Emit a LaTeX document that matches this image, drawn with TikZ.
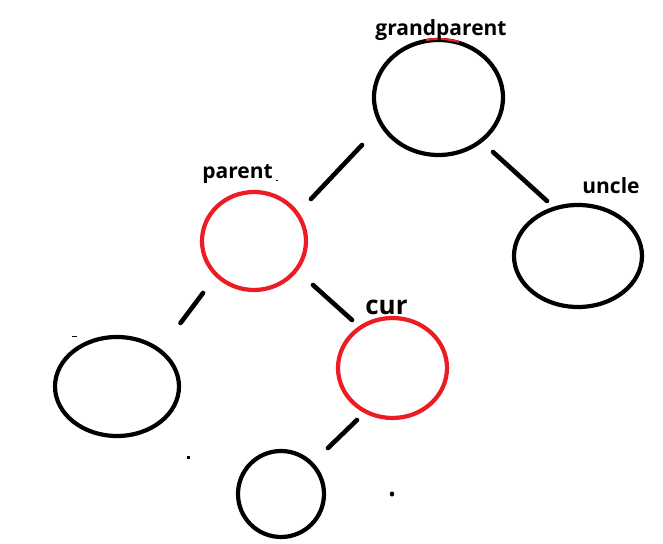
\documentclass[tikz,border=0pt]{standalone}
\usepackage{fontspec}
\setmainfont{Open Sans}
\usetikzlibrary{shapes.geometric,calc}
\definecolor{pred}{RGB}{237,28,36}
\begin{document}
\begin{tikzpicture}[x=1pt,y=1pt,
  bnode/.style={ellipse,draw=black,line width=4.2pt,inner sep=0pt},
  rnode/.style={ellipse,draw=pred,line width=4.2pt,inner sep=0pt},
  conn/.style={draw=black,line width=4.6pt,line cap=round},
  lbl/.style={font=\bfseries\fontsize{21}{21}\selectfont,anchor=base,inner sep=0pt}]
\useasboundingbox[fill=white] (0,0) rectangle (663,543);
% nodes
\node[bnode,minimum width=129pt,minimum height=115pt] (gp) at (438.5,445.5) {};
\node[rnode,minimum width=104pt,minimum height=98pt] (p) at (254,302) {};
\node[bnode,minimum width=128pt,minimum height=102pt] (u) at (578,287) {};
\node[bnode,minimum width=124pt,minimum height=99pt] (l) at (117,156.5) {};
\node[rnode,minimum width=109pt,minimum height=100pt] (c) at (392.5,175) {};
\node[bnode,minimum width=86pt,minimum height=86pt] (b) at (281,49) {};
% red mark on top of grandparent
\draw[pred,line width=2pt] ($(gp.center)+(72:65.5 and 58.5)$) arc[start angle=72,end angle=101,x radius=65.5,y radius=58.5];
% labels
\node[lbl] (tgp) at (441,507) {grandparent};
\node[lbl] (tp) at (237.5,364) {parent};
\node[lbl] (tu) at (611,349) {uncle};
\node[lbl,font=\bfseries\fontsize{26}{26}\selectfont] (tc) at (386.5,228) {cur};
% connectors
\draw[conn] ($(gp.center)+(-76.5,-47.5)$) -- ($(p.center)+(57,42)$);
\draw[conn] ($(gp.center)+(54.5,-54.5)$) -- ($(u.center)+(-31,55)$);
\draw[conn] ($(p.center)+(-51,-52)$) -- ($(l.center)+(63.5,63.5)$);
\draw[conn] ($(p.center)+(59,-44)$) -- ($(c.center)+(-40.5,48)$);
\draw[conn] ($(c.center)+(-35.5,-52)$) -- ($(b.center)+(47,46)$);
% stray marks
\fill[black] (392,49) ellipse[x radius=2.2,y radius=2.6];
\fill[black] (186.5,83.5) rectangle (189.5,86.5);
\fill[black] (72,205.5) rectangle (77,207);
\fill[black] (276,361.5) rectangle (278,363);
\end{tikzpicture}
\end{document}
